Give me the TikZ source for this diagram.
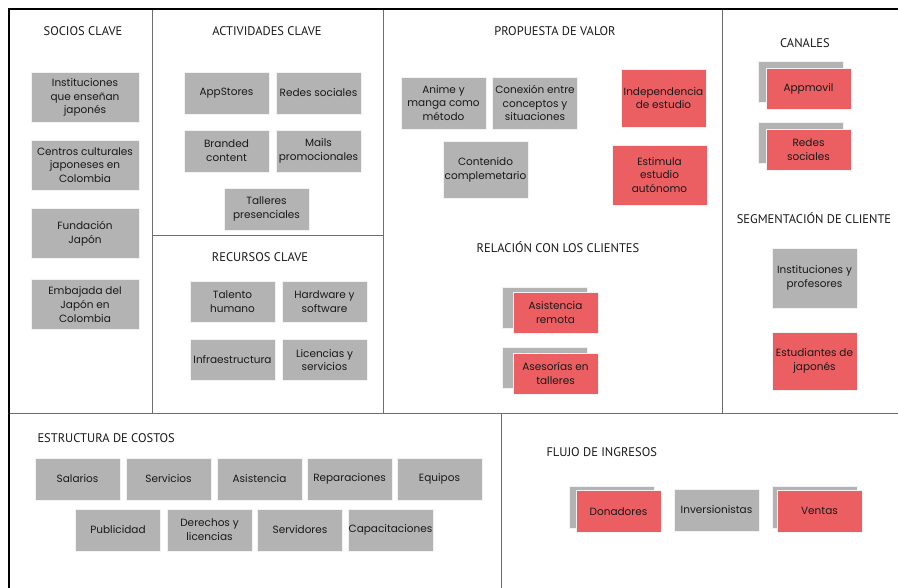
\documentclass[tikz,border=0pt]{standalone}
\usepackage{fontspec}
\setmainfont{Poppins}
\newfontfamily\headfont{PT Sans}
\usetikzlibrary{positioning,calc}
\definecolor{boxgray}{RGB}{179,179,179}
\definecolor{boxred}{RGB}{235,95,99}
\definecolor{inkdark}{RGB}{25,25,25}
\definecolor{rulegray}{RGB}{110,110,110}

\begin{document}
\begin{tikzpicture}[
  x=1pt, y=-1pt,
  gbox/.style={rectangle, fill=boxgray, draw=white!90!gray, line width=0.6pt,
               minimum width=85pt, minimum height=42pt, inner xsep=0pt, inner ysep=1pt,
               align=center, text=inkdark, font=\fontsize{10.5}{13.8}\selectfont},
  rbox/.style={gbox, fill=boxred},
  head/.style={text=inkdark, font=\headfont\fontsize{12.5}{14}\selectfont},
  rule/.style={draw=rulegray, line width=1pt}
]
\useasboundingbox (0,0) rectangle (898,588);

% canvas lines
\draw[rule] (152,9) -- (152,413);
\draw[rule] (383,9) -- (383,413);
\draw[rule] (722,9) -- (722,413);
\draw[rule] (152,236) -- (383,236);
\draw[rule] (9,413) -- (898,413);
\draw[rule] (501,413) -- (501,588);
\draw[black, line width=2.2pt] (9,588) -- (9,9) -- (898,9);

% headers
\node[head] (h-socios) at (83,31)   {SOCIOS CLAVE};
\node[head] (h-activ)  at (267,31)  {ACTIVIDADES CLAVE};
\node[head] (h-prop)   at (555,31)  {PROPUESTA DE VALOR};
\node[head] (h-canal)  at (805,43)  {CANALES};
\node[head] (h-segm)   at (814,218) {SEGMENTACIÓN DE CLIENTE};
\node[head] (h-relac)  at (558,247) {RELACIÓN CON LOS CLIENTES};
\node[head] (h-recur)  at (260,257) {RECURSOS CLAVE};
\node[head, anchor=west] (h-costos) at (34,438) {ESTRUCTURA DE COSTOS};
\node[head, anchor=west] (h-flujo)  at (543,452) {FLUJO DE INGRESOS};

% socios clave
\node[gbox, minimum width=108pt, minimum height=50pt] (inst)  at (85,97.5)  {Instituciones\\que enseñan\\japonés};
\node[gbox, minimum width=108pt, minimum height=50pt] (centr) at (85,165)   {Centros culturales\\japoneses en\\Colombia};
\node[gbox, minimum width=108pt, minimum height=50pt] (fund)  at (85,233.5) {Fundación\\Japón};
\node[gbox, minimum width=108pt, minimum height=50pt] (emb)   at (85,304.5) {Embajada del\\Japón en\\Colombia};

% actividades clave
\node[gbox] (apps)    at (226.5,93)  {AppStores};
\node[gbox] (redes)   at (318.5,93)  {Redes sociales};
\node[gbox] (brand)   at (226.5,151) {Branded\\content};
\node[gbox] (mails)   at (318.5,151) {Mails\\promocionales};
\node[gbox] (talleres) at (266.5,209) {Talleres\\presenciales};

% recursos clave
\node[gbox, minimum height=41pt] (talento) at (232.5,301.5) {Talento\\humano};
\node[gbox, minimum height=41pt] (hard)    at (324.5,301.5) {Hardware y\\software};
\node[gbox, minimum height=41pt] (infra)   at (232.5,360)   {Infraestructura};
\node[gbox, minimum height=41pt] (lic)     at (324.5,360)   {Licencias y\\servicios};

% propuesta de valor
\node[gbox, minimum height=52pt] (anime) at (443.5,103) {Anime y\\manga como\\método};
\node[gbox, minimum height=52pt] (conex) at (535,103)   {Conexión entre\\conceptos y\\situaciones};
\node[gbox, minimum height=57pt] (cont)  at (485.5,169.5) {Contenido\\complemetario};
\node[rbox, minimum height=58pt] (indep) at (663.5,98)  {Independencia\\de estudio};
\node[rbox, minimum width=95pt, minimum height=60pt] (estim) at (659.5,175) {Estimula\\estudio\\autónomo};

% relacion con los clientes
\node[gbox, minimum height=41pt] (asis-b) at (545,307.5) {};
\node[rbox, minimum height=41pt] (asis)   at ($(asis-b)+(10.5,5)$) {Asistencia\\remota};
\node[gbox, minimum height=41pt] (ases-b) at (545,368) {};
\node[rbox, minimum height=41pt] (ases)   at ($(ases-b)+(10.5,5.5)$) {Asesorías en\\talleres};

% canales
\node[gbox, minimum height=41pt] (appm-b) at (800.5,82) {};
\node[rbox, minimum height=41pt] (appm)   at ($(appm-b)+(8,6.5)$) {Appmovil};
\node[gbox, minimum height=41pt] (redc-b) at (800.5,143) {};
\node[rbox, minimum height=41pt] (redc)   at ($(redc-b)+(8,7)$) {Redes\\sociales};

% segmentacion
\node[gbox, minimum height=60pt] (instp) at (814.5,278) {Instituciones y\\profesores};
\node[rbox, minimum height=58pt] (estud) at (814.5,361) {Estudiantes de\\japonés};

% estructura de costos
\node[gbox] (sal)  at (77.5,479)  {Salarios};
\node[gbox, right=5.4pt of sal]  (serv) {Servicios};
\node[gbox, right=5.4pt of serv] (asi)  {Asistencia};
\node[gbox, right=4.4pt of asi]  (rep)  {Reparaciones};
\node[gbox, right=4.4pt of rep]  (equ)  {Equipos};
\node[gbox] (pub)  at (118,530)   {Publicidad};
\node[gbox, right=5.9pt of pub] (der)  {Derechos y\\licencias};
\node[gbox, right=4.9pt of der]  (servd) {Servidores};
\node[gbox, right=4.9pt of servd] (cap) {Capacitaciones};

% flujo de ingresos
\node[gbox] (don-b) at (611.5,507) {};
\node[rbox] (don)   at ($(don-b)+(7,4.5)$) {Donadores};
\node[gbox] (inv)   at (716.5,510) {Inversionistas};
\node[gbox] (ven-b) at (814.5,507) {};
\node[rbox] (ven)   at ($(ven-b)+(5,4)$) {Ventas};
\end{tikzpicture}
\end{document}
